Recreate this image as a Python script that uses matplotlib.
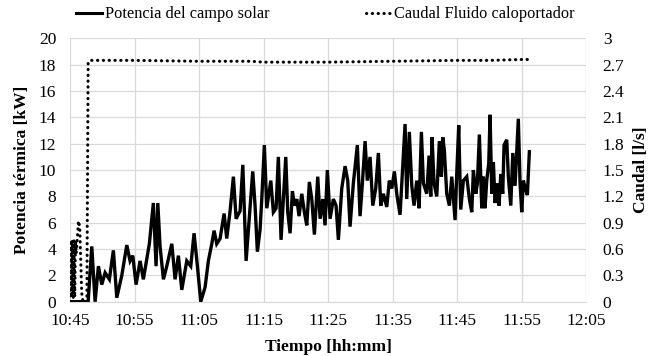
import matplotlib
matplotlib.use("Agg")
import matplotlib.pyplot as plt
from matplotlib.lines import Line2D

# ---- data (minutes after 10:45) ----
tiempo_potencia = [0, 2.8, 3.36, 3.88, 4.39, 4.91, 5.43, 6.09, 6.71, 7.24, 8.02, 8.79, 9.30, 9.72,
    10.23, 10.85, 11.36, 12.29, 12.91, 13.33, 13.60, 13.95, 14.47, 14.99, 15.77, 16.28, 16.79,
    17.32, 18.09, 18.71, 19.22, 19.74, 20.26, 20.93, 21.44, 21.97, 22.33, 22.74, 23.26, 23.88,
    24.29, 24.81, 25.32, 25.74, 26.36, 26.78, 27.29, 27.80, 28.32, 28.68, 29.04, 29.46, 29.72,
    30.12, 30.50, 31.12, 31.52, 31.94, 32.29, 32.71, 33.07, 33.44, 33.75, 34.11, 34.47, 34.78,
    35.15, 35.50, 35.92, 36.33, 36.70, 37.10, 37.47, 37.88, 38.40, 38.76, 39.18, 39.53, 39.89,
    40.31, 40.82, 41.24, 41.60, 42.12, 42.64, 43.05, 43.41, 43.92, 44.54, 44.96, 45.32, 45.74,
    46.09, 46.51, 46.93, 47.39, 47.80, 48.17, 48.57, 49.10, 49.50, 49.88, 50.28, 50.65, 51.16,
    51.58, 51.94, 52.20, 52.60, 52.98, 53.33, 53.75, 54.11, 54.47, 54.78, 55.30, 55.66, 55.92,
    56.12, 56.43, 56.85, 57.26, 57.57, 57.78, 58.03, 58.40, 58.81, 59.18, 59.69, 59.95, 60.26,
    60.57, 60.98, 61.50, 61.91, 62.28, 62.53, 62.90, 63.15, 63.46, 63.83, 64.08, 64.34, 64.60,
    64.91, 65.12, 65.38, 65.63, 65.89, 66.25, 66.51, 66.78, 67.08, 67.29, 67.70, 67.95, 68.33,
    68.64, 68.99, 69.50, 69.77, 70.03, 70.28, 70.59, 70.90, 71.21]
potencia = [0, 0, 4.2, 0, 2.7, 1.3, 2.2, 1.7, 3.9, 0.3, 2.0, 4.3, 3.1, 3.5,
    1.3, 3.1, 1.7, 4.4, 7.5, 2.7, 7.5, 4.2, 1.7, 2.7, 4.4, 1.7, 3.5,
    0.9, 3.1, 2.7, 5.2, 2.7, 0, 1.1, 3.1, 4.4, 5.4, 4.4, 4.8, 6.7,
    4.8, 6.9, 9.5, 6.3, 6.9, 10.4, 3.1, 6.5, 9.9, 7.3, 3.8, 5.5, 7.8,
    11.9, 7.1, 9.2, 6.8, 7.1, 11.0, 4.7, 7.8, 11.0, 6.8, 5.2, 8.4, 7.3,
    7.8, 6.5, 8.2, 6.8, 5.8, 9.1, 7.8, 5.1, 9.5, 6.3, 7.8, 5.8, 10.0,
    6.3, 7.8, 7.3, 4.7, 8.6, 10.3, 9.2, 5.7, 9.0, 11.9, 6.5, 9.0, 12.2,
    9.2, 11.0, 7.3, 8.6, 11.3, 7.3, 8.2, 7.2, 9.2, 8.6, 9.9, 8.2, 6.6,
    10.3, 13.5, 7.8, 12.9, 8.8, 7.3, 9.2, 7.1, 12.9, 9.0, 8.2, 11.1, 8.0,
    12.5, 9.0, 8.0, 12.2, 9.5, 12.5, 11.5, 8.2, 7.3, 9.5, 6.2, 9.7, 13.4,
    7.0, 9.2, 9.5, 7.8, 6.8, 10.0, 8.2, 9.0, 12.7, 7.1, 9.5, 7.1, 9.2,
    10.5, 14.2, 8.2, 10.6, 7.5, 9.0, 7.3, 9.7, 8.2, 11.9, 12.3, 9.5, 7.3,
    11.3, 8.8, 13.9, 9.0, 6.8, 9.2, 8.6, 8.1, 11.4]

tiempo_caudal = [0, 0.12, 0.24, 0.36, 0.48, 0.60, 0.72, 0.84, 0.96, 1.3, 1.5, 1.8, 2.0, 2.6, 2.8,
    3.2, 10, 20, 28, 30, 40, 50, 60, 65, 70, 71.0, 71.2]
caudal = [0, 0.70, 0.05, 0.70, 0.05, 0.70, 0.05, 0.70, 0.55, 0.92, 0.85, 0.10, 0, 0, 2.73,
    2.75, 2.75, 2.74, 2.74, 2.73, 2.73, 2.74, 2.75, 2.75, 2.76, 2.76, 2.78]

x_ticks = [0, 10, 20, 30, 40, 50, 60, 70, 80]
x_labels = ["10:45", "10:55", "11:05", "11:15", "11:25", "11:35", "11:45", "11:55", "12:05"]
y1_ticks = [0, 2, 4, 6, 8, 10, 12, 14, 16, 18, 20]
y2_ticks = [0, 0.3, 0.6, 0.9, 1.2, 1.5, 1.8, 2.1, 2.4, 2.7, 3.0]
y2_labels = ["0", "0.3", "0.6", "0.9", "1.2", "1.5", "1.8", "2.1", "2.4", "2.7", "3"]

plt.rcParams['font.family'] = ['Liberation Serif', 'DejaVu Serif']
plt.rcParams['font.size'] = 12.5

fig = plt.figure(figsize=(6.49, 3.56), dpi=100)
ax = fig.add_axes([0.108, 0.1525, 0.795, 0.7395])
ax2 = ax.twinx()

grid_c = "#d9d9d9"
ax.set_xlim(0, 80)
ax.set_ylim(0, 20)
ax2.set_ylim(0, 3)
ax.set_xticks(x_ticks)
ax.set_xticklabels(x_labels)
ax.set_yticks(y1_ticks)
ax2.set_yticks(y2_ticks)
ax2.set_yticklabels(y2_labels)
ax.grid(True, color=grid_c, lw=0.9)
ax.set_axisbelow(True)
for a in (ax, ax2):
    for s in a.spines.values():
        s.set_visible(False)
    a.tick_params(length=0)
ax.spines['bottom'].set_visible(True)
ax.spines['bottom'].set_color(grid_c)
ax.tick_params(axis='y', pad=10)
ax.tick_params(axis='x', pad=8)
ax2.tick_params(axis='y', pad=12)

dot_style = (0, (0.1, 1.8))
ax.plot(tiempo_potencia, potencia, color='black', lw=2.4, solid_joinstyle='miter', zorder=3)
ax2.plot(tiempo_caudal, caudal, color='black', lw=2.2, linestyle=dot_style,
         dash_capstyle='round', zorder=3)

ax.set_ylabel("Potencia térmica [kW]", fontweight='bold', labelpad=6)
ax2.set_ylabel("Caudal [l/s]", fontweight='bold', labelpad=6)
ax.set_xlabel("Tiempo [hh:mm]", fontweight='bold', labelpad=7)

handles = [Line2D([], [], color='black', lw=2.2),
           Line2D([], [], color='black', lw=2.2, linestyle=dot_style, dash_capstyle='round')]
fig.legend(handles, ["Potencia del campo solar", "Caudal Fluido caloportador"],
           loc='upper left', bbox_to_anchor=(0.117, 0.982), ncol=2, frameon=False,
           borderaxespad=0, borderpad=0,
           handlelength=1.6, handletextpad=0.15, columnspacing=5.9, fontsize=11.8)

fig.savefig("out.png", dpi=100)
